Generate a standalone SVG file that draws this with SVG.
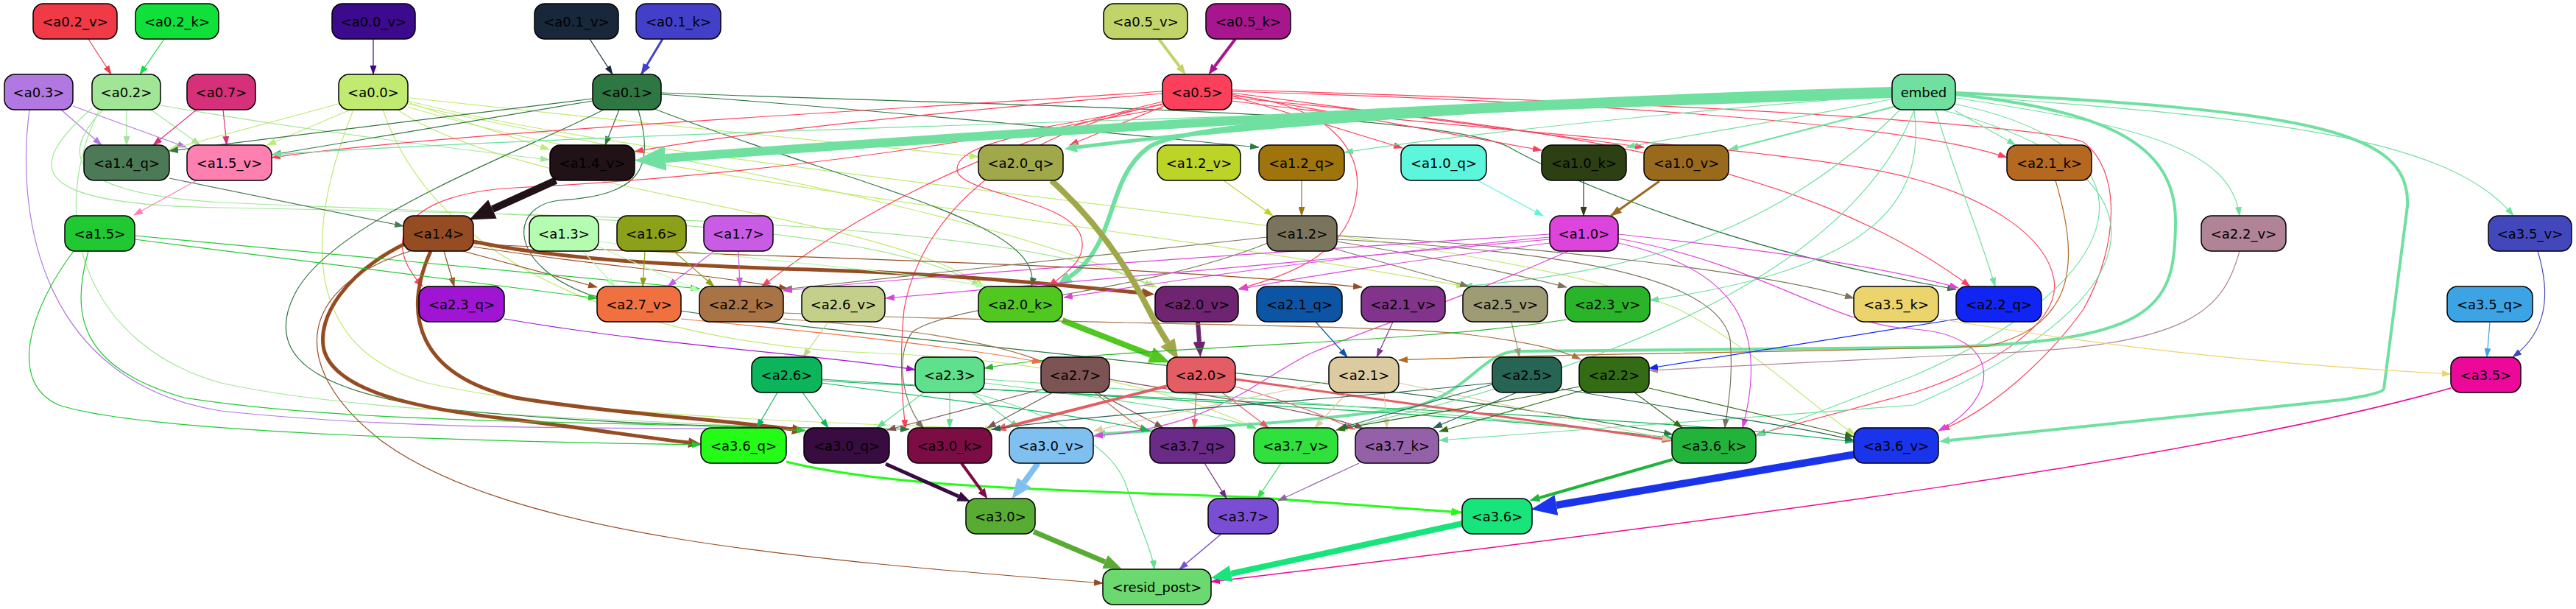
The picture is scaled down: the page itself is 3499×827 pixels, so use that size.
<svg xmlns="http://www.w3.org/2000/svg" width="3499" height="827" viewBox="0 0 3499 827">
<style>
.n rect{stroke:#000;stroke-width:1.5}
.n text{font-family:"DejaVu Sans","Liberation Sans",sans-serif;font-size:18px;text-anchor:middle;fill:#000}
.e path{fill:none;stroke-width:1.2}
</style>
<defs>
<marker id="m02v" viewBox="0 0 13 9" markerWidth="13" markerHeight="9" refX="12" refY="4.5" orient="auto" markerUnits="userSpaceOnUse"><path d="M0,0L13,4.5L0,9z" fill="#f03a46"/></marker>
<marker id="m02k" viewBox="0 0 13 9" markerWidth="13" markerHeight="9" refX="12" refY="4.5" orient="auto" markerUnits="userSpaceOnUse"><path d="M0,0L13,4.5L0,9z" fill="#10e03a"/></marker>
<marker id="m00v" viewBox="0 0 13 9" markerWidth="13" markerHeight="9" refX="12" refY="4.5" orient="auto" markerUnits="userSpaceOnUse"><path d="M0,0L13,4.5L0,9z" fill="#3c0a8c"/></marker>
<marker id="m01v" viewBox="0 0 13 9" markerWidth="13" markerHeight="9" refX="12" refY="4.5" orient="auto" markerUnits="userSpaceOnUse"><path d="M0,0L13,4.5L0,9z" fill="#18283a"/></marker>
<marker id="m01k" viewBox="0 0 13 9" markerWidth="16" markerHeight="11" refX="12" refY="4.5" orient="auto" markerUnits="userSpaceOnUse"><path d="M0,0L13,4.5L0,9z" fill="#4240c8"/></marker>
<marker id="m03" viewBox="0 0 13 9" markerWidth="13" markerHeight="9" refX="12" refY="4.5" orient="auto" markerUnits="userSpaceOnUse"><path d="M0,0L13,4.5L0,9z" fill="#b078e0"/></marker>
<marker id="m02" viewBox="0 0 13 9" markerWidth="13" markerHeight="9" refX="12" refY="4.5" orient="auto" markerUnits="userSpaceOnUse"><path d="M0,0L13,4.5L0,9z" fill="#a0e696"/></marker>
<marker id="m07" viewBox="0 0 13 9" markerWidth="13" markerHeight="9" refX="12" refY="4.5" orient="auto" markerUnits="userSpaceOnUse"><path d="M0,0L13,4.5L0,9z" fill="#d6307a"/></marker>
<marker id="m00" viewBox="0 0 13 9" markerWidth="13" markerHeight="9" refX="12" refY="4.5" orient="auto" markerUnits="userSpaceOnUse"><path d="M0,0L13,4.5L0,9z" fill="#c0ea70"/></marker>
<marker id="m01" viewBox="0 0 13 9" markerWidth="13" markerHeight="9" refX="12" refY="4.5" orient="auto" markerUnits="userSpaceOnUse"><path d="M0,0L13,4.5L0,9z" fill="#2e7642"/></marker>
<marker id="m05" viewBox="0 0 13 9" markerWidth="13" markerHeight="9" refX="12" refY="4.5" orient="auto" markerUnits="userSpaceOnUse"><path d="M0,0L13,4.5L0,9z" fill="#fc405c"/></marker>
<marker id="memb" viewBox="0 0 13 9" markerWidth="13" markerHeight="9" refX="12" refY="4.5" orient="auto" markerUnits="userSpaceOnUse"><path d="M0,0L13,4.5L0,9z" fill="#70e0a0"/></marker>
<marker id="m14q" viewBox="0 0 13 9" markerWidth="13" markerHeight="9" refX="12" refY="4.5" orient="auto" markerUnits="userSpaceOnUse"><path d="M0,0L13,4.5L0,9z" fill="#4c7a56"/></marker>
<marker id="m15v" viewBox="0 0 13 9" markerWidth="13" markerHeight="9" refX="12" refY="4.5" orient="auto" markerUnits="userSpaceOnUse"><path d="M0,0L13,4.5L0,9z" fill="#fe80b0"/></marker>
<marker id="m15" viewBox="0 0 13 9" markerWidth="13" markerHeight="9" refX="12" refY="4.5" orient="auto" markerUnits="userSpaceOnUse"><path d="M0,0L13,4.5L0,9z" fill="#20c832"/></marker>
<marker id="m14" viewBox="0 0 13 9" markerWidth="13" markerHeight="9" refX="12" refY="4.5" orient="auto" markerUnits="userSpaceOnUse"><path d="M0,0L13,4.5L0,9z" fill="#964c22"/></marker>
<marker id="m13" viewBox="0 0 13 9" markerWidth="13" markerHeight="9" refX="12" refY="4.5" orient="auto" markerUnits="userSpaceOnUse"><path d="M0,0L13,4.5L0,9z" fill="#b4fcb0"/></marker>
<marker id="m16" viewBox="0 0 13 9" markerWidth="13" markerHeight="9" refX="12" refY="4.5" orient="auto" markerUnits="userSpaceOnUse"><path d="M0,0L13,4.5L0,9z" fill="#8ca01a"/></marker>
<marker id="m17" viewBox="0 0 13 9" markerWidth="13" markerHeight="9" refX="12" refY="4.5" orient="auto" markerUnits="userSpaceOnUse"><path d="M0,0L13,4.5L0,9z" fill="#c85ce4"/></marker>
<marker id="m12" viewBox="0 0 13 9" markerWidth="13" markerHeight="9" refX="12" refY="4.5" orient="auto" markerUnits="userSpaceOnUse"><path d="M0,0L13,4.5L0,9z" fill="#7a745c"/></marker>
<marker id="m10" viewBox="0 0 13 9" markerWidth="13" markerHeight="9" refX="12" refY="4.5" orient="auto" markerUnits="userSpaceOnUse"><path d="M0,0L13,4.5L0,9z" fill="#dc44dc"/></marker>
<marker id="m12v" viewBox="0 0 13 9" markerWidth="13" markerHeight="9" refX="12" refY="4.5" orient="auto" markerUnits="userSpaceOnUse"><path d="M0,0L13,4.5L0,9z" fill="#bcd428"/></marker>
<marker id="m12q" viewBox="0 0 13 9" markerWidth="13" markerHeight="9" refX="12" refY="4.5" orient="auto" markerUnits="userSpaceOnUse"><path d="M0,0L13,4.5L0,9z" fill="#a0740c"/></marker>
<marker id="m10q" viewBox="0 0 13 9" markerWidth="13" markerHeight="9" refX="12" refY="4.5" orient="auto" markerUnits="userSpaceOnUse"><path d="M0,0L13,4.5L0,9z" fill="#5cf6dc"/></marker>
<marker id="m10k" viewBox="0 0 13 9" markerWidth="13" markerHeight="9" refX="12" refY="4.5" orient="auto" markerUnits="userSpaceOnUse"><path d="M0,0L13,4.5L0,9z" fill="#2c4014"/></marker>
<marker id="m10v" viewBox="0 0 13 9" markerWidth="16" markerHeight="11" refX="12" refY="4.5" orient="auto" markerUnits="userSpaceOnUse"><path d="M0,0L13,4.5L0,9z" fill="#9a6a1c"/></marker>
<marker id="m21k" viewBox="0 0 13 9" markerWidth="13" markerHeight="9" refX="12" refY="4.5" orient="auto" markerUnits="userSpaceOnUse"><path d="M0,0L13,4.5L0,9z" fill="#b46820"/></marker>
<marker id="m22v" viewBox="0 0 13 9" markerWidth="13" markerHeight="9" refX="12" refY="4.5" orient="auto" markerUnits="userSpaceOnUse"><path d="M0,0L13,4.5L0,9z" fill="#b08496"/></marker>
<marker id="m35v" viewBox="0 0 13 9" markerWidth="13" markerHeight="9" refX="12" refY="4.5" orient="auto" markerUnits="userSpaceOnUse"><path d="M0,0L13,4.5L0,9z" fill="#4248bc"/></marker>
<marker id="m23q" viewBox="0 0 13 9" markerWidth="13" markerHeight="9" refX="12" refY="4.5" orient="auto" markerUnits="userSpaceOnUse"><path d="M0,0L13,4.5L0,9z" fill="#a014d4"/></marker>
<marker id="m27v" viewBox="0 0 13 9" markerWidth="13" markerHeight="9" refX="12" refY="4.5" orient="auto" markerUnits="userSpaceOnUse"><path d="M0,0L13,4.5L0,9z" fill="#f07040"/></marker>
<marker id="m22k" viewBox="0 0 13 9" markerWidth="13" markerHeight="9" refX="12" refY="4.5" orient="auto" markerUnits="userSpaceOnUse"><path d="M0,0L13,4.5L0,9z" fill="#a87446"/></marker>
<marker id="m26v" viewBox="0 0 13 9" markerWidth="13" markerHeight="9" refX="12" refY="4.5" orient="auto" markerUnits="userSpaceOnUse"><path d="M0,0L13,4.5L0,9z" fill="#c4d08a"/></marker>
<marker id="m21q" viewBox="0 0 13 9" markerWidth="13" markerHeight="9" refX="12" refY="4.5" orient="auto" markerUnits="userSpaceOnUse"><path d="M0,0L13,4.5L0,9z" fill="#0c54a4"/></marker>
<marker id="m21v" viewBox="0 0 13 9" markerWidth="13" markerHeight="9" refX="12" refY="4.5" orient="auto" markerUnits="userSpaceOnUse"><path d="M0,0L13,4.5L0,9z" fill="#82348c"/></marker>
<marker id="m25v" viewBox="0 0 13 9" markerWidth="13" markerHeight="9" refX="12" refY="4.5" orient="auto" markerUnits="userSpaceOnUse"><path d="M0,0L13,4.5L0,9z" fill="#9e9c74"/></marker>
<marker id="m23v" viewBox="0 0 13 9" markerWidth="13" markerHeight="9" refX="12" refY="4.5" orient="auto" markerUnits="userSpaceOnUse"><path d="M0,0L13,4.5L0,9z" fill="#2ab42a"/></marker>
<marker id="m35k" viewBox="0 0 13 9" markerWidth="13" markerHeight="9" refX="12" refY="4.5" orient="auto" markerUnits="userSpaceOnUse"><path d="M0,0L13,4.5L0,9z" fill="#ecd46c"/></marker>
<marker id="m22q" viewBox="0 0 13 9" markerWidth="13" markerHeight="9" refX="12" refY="4.5" orient="auto" markerUnits="userSpaceOnUse"><path d="M0,0L13,4.5L0,9z" fill="#1024f4"/></marker>
<marker id="m35q" viewBox="0 0 13 9" markerWidth="13" markerHeight="9" refX="12" refY="4.5" orient="auto" markerUnits="userSpaceOnUse"><path d="M0,0L13,4.5L0,9z" fill="#3ca4e4"/></marker>
<marker id="m26" viewBox="0 0 13 9" markerWidth="13" markerHeight="9" refX="12" refY="4.5" orient="auto" markerUnits="userSpaceOnUse"><path d="M0,0L13,4.5L0,9z" fill="#0cb45c"/></marker>
<marker id="m23" viewBox="0 0 13 9" markerWidth="13" markerHeight="9" refX="12" refY="4.5" orient="auto" markerUnits="userSpaceOnUse"><path d="M0,0L13,4.5L0,9z" fill="#60e08c"/></marker>
<marker id="m27" viewBox="0 0 13 9" markerWidth="13" markerHeight="9" refX="12" refY="4.5" orient="auto" markerUnits="userSpaceOnUse"><path d="M0,0L13,4.5L0,9z" fill="#7c5454"/></marker>
<marker id="m20" viewBox="0 0 13 9" markerWidth="13" markerHeight="9" refX="12" refY="4.5" orient="auto" markerUnits="userSpaceOnUse"><path d="M0,0L13,4.5L0,9z" fill="#e45c64"/></marker>
<marker id="m21" viewBox="0 0 13 9" markerWidth="13" markerHeight="9" refX="12" refY="4.5" orient="auto" markerUnits="userSpaceOnUse"><path d="M0,0L13,4.5L0,9z" fill="#dccaa0"/></marker>
<marker id="m25" viewBox="0 0 13 9" markerWidth="13" markerHeight="9" refX="12" refY="4.5" orient="auto" markerUnits="userSpaceOnUse"><path d="M0,0L13,4.5L0,9z" fill="#266454"/></marker>
<marker id="m22" viewBox="0 0 13 9" markerWidth="13" markerHeight="9" refX="12" refY="4.5" orient="auto" markerUnits="userSpaceOnUse"><path d="M0,0L13,4.5L0,9z" fill="#346c16"/></marker>
<marker id="m35" viewBox="0 0 13 9" markerWidth="13" markerHeight="9" refX="12" refY="4.5" orient="auto" markerUnits="userSpaceOnUse"><path d="M0,0L13,4.5L0,9z" fill="#ec0898"/></marker>
<marker id="m36q" viewBox="0 0 13 9" markerWidth="16" markerHeight="11" refX="12" refY="4.5" orient="auto" markerUnits="userSpaceOnUse"><path d="M0,0L13,4.5L0,9z" fill="#24fc18"/></marker>
<marker id="m37q" viewBox="0 0 13 9" markerWidth="13" markerHeight="9" refX="12" refY="4.5" orient="auto" markerUnits="userSpaceOnUse"><path d="M0,0L13,4.5L0,9z" fill="#6a2a88"/></marker>
<marker id="m37v" viewBox="0 0 13 9" markerWidth="13" markerHeight="9" refX="12" refY="4.5" orient="auto" markerUnits="userSpaceOnUse"><path d="M0,0L13,4.5L0,9z" fill="#30e03c"/></marker>
<marker id="m37k" viewBox="0 0 13 9" markerWidth="13" markerHeight="9" refX="12" refY="4.5" orient="auto" markerUnits="userSpaceOnUse"><path d="M0,0L13,4.5L0,9z" fill="#9460a8"/></marker>
<marker id="m37" viewBox="0 0 13 9" markerWidth="13" markerHeight="9" refX="12" refY="4.5" orient="auto" markerUnits="userSpaceOnUse"><path d="M0,0L13,4.5L0,9z" fill="#7a4ed4"/></marker>
<marker id="m20t" viewBox="0 0 13 9" markerWidth="16" markerHeight="11" refX="12" refY="4.5" orient="auto" markerUnits="userSpaceOnUse"><path d="M0,0L13,4.5L0,9z" fill="#e45c64"/></marker>
<marker id="t14v" viewBox="0 0 35 28" markerWidth="3.5" markerHeight="2.8" refX="0" refY="14" orient="auto" markerUnits="strokeWidth"><path d="M0,0L35,14L0,28z" fill="#201216"/></marker>
<marker id="temb" viewBox="0 0 35 28" markerWidth="3.5" markerHeight="2.8" refX="0" refY="14" orient="auto" markerUnits="strokeWidth"><path d="M0,0L35,14L0,28z" fill="#70e0a0"/></marker>
<marker id="t20q" viewBox="0 0 35 28" markerWidth="3.5" markerHeight="2.8" refX="0" refY="14" orient="auto" markerUnits="strokeWidth"><path d="M0,0L35,14L0,28z" fill="#a0a84a"/></marker>
<marker id="t20k" viewBox="0 0 35 28" markerWidth="3.5" markerHeight="2.8" refX="0" refY="14" orient="auto" markerUnits="strokeWidth"><path d="M0,0L35,14L0,28z" fill="#50c820"/></marker>
<marker id="t20v" viewBox="0 0 35 28" markerWidth="3.5" markerHeight="2.8" refX="0" refY="14" orient="auto" markerUnits="strokeWidth"><path d="M0,0L35,14L0,28z" fill="#6e2470"/></marker>
<marker id="t14" viewBox="0 0 35 28" markerWidth="3.5" markerHeight="2.8" refX="0" refY="14" orient="auto" markerUnits="strokeWidth"><path d="M0,0L35,14L0,28z" fill="#964c22"/></marker>
<marker id="t30q" viewBox="0 0 35 28" markerWidth="3.5" markerHeight="2.8" refX="0" refY="14" orient="auto" markerUnits="strokeWidth"><path d="M0,0L35,14L0,28z" fill="#380c40"/></marker>
<marker id="t30k" viewBox="0 0 35 28" markerWidth="3.5" markerHeight="2.8" refX="0" refY="14" orient="auto" markerUnits="strokeWidth"><path d="M0,0L35,14L0,28z" fill="#7c0c44"/></marker>
<marker id="t30v" viewBox="0 0 35 28" markerWidth="3.5" markerHeight="2.8" refX="0" refY="14" orient="auto" markerUnits="strokeWidth"><path d="M0,0L35,14L0,28z" fill="#80c0f0"/></marker>
<marker id="t36k" viewBox="0 0 35 28" markerWidth="3.5" markerHeight="2.8" refX="0" refY="14" orient="auto" markerUnits="strokeWidth"><path d="M0,0L35,14L0,28z" fill="#22b43a"/></marker>
<marker id="t36v" viewBox="0 0 35 28" markerWidth="3.5" markerHeight="2.8" refX="0" refY="14" orient="auto" markerUnits="strokeWidth"><path d="M0,0L35,14L0,28z" fill="#1a34ec"/></marker>
<marker id="t30" viewBox="0 0 35 28" markerWidth="3.5" markerHeight="2.8" refX="0" refY="14" orient="auto" markerUnits="strokeWidth"><path d="M0,0L35,14L0,28z" fill="#58ac34"/></marker>
<marker id="t36" viewBox="0 0 35 28" markerWidth="3.5" markerHeight="2.8" refX="0" refY="14" orient="auto" markerUnits="strokeWidth"><path d="M0,0L35,14L0,28z" fill="#18e47c"/></marker>
<marker id="t20" viewBox="0 0 35 28" markerWidth="3.5" markerHeight="2.8" refX="0" refY="14" orient="auto" markerUnits="strokeWidth"><path d="M0,0L35,14L0,28z" fill="#e45c64"/></marker>
<marker id="t05v" viewBox="0 0 35 28" markerWidth="3.5" markerHeight="2.8" refX="0" refY="14" orient="auto" markerUnits="strokeWidth"><path d="M0,0L35,14L0,28z" fill="#c0d46a"/></marker>
<marker id="t05k" viewBox="0 0 35 28" markerWidth="3.5" markerHeight="2.8" refX="0" refY="14" orient="auto" markerUnits="strokeWidth"><path d="M0,0L35,14L0,28z" fill="#a8168e"/></marker>
</defs>
<rect width="3499" height="827" fill="#fff"/>
<g id="connectors" class="e">
<path d="M120,53 L151,101" stroke="#f03a46" marker-end="url(#m02v)"/>
<path d="M223,53 L190,101" stroke="#10e03a" marker-end="url(#m02k)"/>
<path d="M507,53 L507,101" stroke="#3c0a8c" stroke-width="1.6" marker-end="url(#m00v)"/>
<path d="M801,53 L832,101" stroke="#18283a" marker-end="url(#m01v)"/>
<path d="M900,53 L871,101" stroke="#4240c8" style="stroke-width:3" marker-end="url(#m01k)"/>
<path d="M1574,53 L1602,90" stroke="#c0d46a" style="stroke-width:4" marker-end="url(#t05v)"/>
<path d="M1678,53 L1650,90" stroke="#a8168e" style="stroke-width:4" marker-end="url(#t05k)"/>
<path d="M83,149 L138,197" stroke="#b078e0" marker-end="url(#m03)"/>
<path d="M99,144 L253,200" stroke="#b078e0" marker-end="url(#m03)"/>
<path d="M40,149 C20,300 60,520 300,558 C600,590 950,578 1093,584" stroke="#b078e0" marker-end="url(#m03)"/>
<path d="M172,149 L172,197" stroke="#a0e696" marker-end="url(#m02)"/>
<path d="M205,149 L272,197" stroke="#a0e696" marker-end="url(#m02)"/>
<path d="M218,143 C400,175 600,200 746,217" stroke="#a0e696" marker-end="url(#m02)"/>
<path d="M140,149 C80,210 90,262 300,275 C700,292 1200,300 1331,389" stroke="#a0e696" marker-end="url(#m02)"/>
<path d="M125,147 C30,230 40,278 300,282 C800,292 1400,300 1566,390" stroke="#a0e696" marker-end="url(#m02)"/>
<path d="M135,149 C60,300 120,470 300,520 C500,565 900,570 1092,583" stroke="#a0e696" marker-end="url(#m02)"/>
<path d="M267,149 L208,197" stroke="#d6307a" marker-end="url(#m07)"/>
<path d="M303,149 L308,197" stroke="#d6307a" marker-end="url(#m07)"/>
<path d="M460,141 L230,203" stroke="#c0ea70" marker-end="url(#m00)"/>
<path d="M476,149 L363,197" stroke="#c0ea70" marker-end="url(#m00)"/>
<path d="M554,139 L746,203" stroke="#c0ea70" marker-end="url(#m00)"/>
<path d="M557,133 C800,160 1100,190 1329,213" stroke="#c0ea70" marker-end="url(#m00)"/>
<path d="M540,149 C700,260 1200,290 1336,389" stroke="#c0ea70" marker-end="url(#m00)"/>
<path d="M554,141 C800,200 1300,270 1571,390" stroke="#c0ea70" marker-end="url(#m00)"/>
<path d="M554,145 C900,250 1500,300 1990,389" stroke="#c0ea70" marker-end="url(#m00)"/>
<path d="M480,149 C420,300 400,470 580,520 C800,570 1200,575 1350,583" stroke="#c0ea70" marker-end="url(#m00)"/>
<path d="M520,149 C600,380 900,470 1200,480 C1450,490 1620,540 1706,582" stroke="#c0ea70" marker-end="url(#m00)"/>
<path d="M554,137 C1000,250 2000,300 2280,420 C2380,470 2470,560 2520,590" stroke="#c0ea70" marker-end="url(#m00)"/>
<path d="M805,134 L230,205" stroke="#2e7642" marker-end="url(#m01)"/>
<path d="M805,137 L370,210" stroke="#2e7642" marker-end="url(#m01)"/>
<path d="M841,149 L822,197" stroke="#2e7642" marker-end="url(#m01)"/>
<path d="M898,128 C1200,150 1500,180 1710,200" stroke="#2e7642" marker-end="url(#m01)"/>
<path d="M884,146 C1150,250 1420,300 1401,389" stroke="#2e7642" marker-end="url(#m01)"/>
<path d="M898,126 C1400,145 1950,150 2050,200 C2120,240 2350,340 2657,393" stroke="#2e7642" marker-end="url(#m01)"/>
<path d="M820,149 C700,210 450,300 400,400 C360,480 420,530 600,555 C900,585 1150,580 1235,583" stroke="#2e7642" marker-end="url(#m01)"/>
<path d="M867,149 C890,230 870,265 760,272 C690,280 690,360 800,400 C1000,450 1800,500 2272,590" stroke="#2e7642" marker-end="url(#m01)"/>
<path d="M1579,124 C1200,150 600,180 369,214" stroke="#fc405c" marker-end="url(#m05)"/>
<path d="M1579,127 C1300,150 1000,180 862,206" stroke="#fc405c" marker-end="url(#m05)"/>
<path d="M1583,143 L1453,197" stroke="#fc405c" marker-end="url(#m05)"/>
<path d="M1673,130 L1905,201" stroke="#fc405c" marker-end="url(#m05)"/>
<path d="M1673,128 L2094,204" stroke="#fc405c" marker-end="url(#m05)"/>
<path d="M1673,126 L2233,200" stroke="#fc405c" marker-end="url(#m05)"/>
<path d="M1673,124 C2200,140 2600,170 2726,214" stroke="#fc405c" marker-end="url(#m05)"/>
<path d="M1673,133 C2100,170 2450,220 2676,389" stroke="#fc405c" marker-end="url(#m05)"/>
<path d="M1673,122 C2300,140 2780,170 2830,193 C2880,230 2880,330 2830,420 C2780,490 2700,560 2636,584" stroke="#fc405c" marker-end="url(#m05)"/>
<path d="M1673,137 C2000,180 2450,200 2600,243 C2700,270 2780,320 2790,380 C2800,440 2700,500 2600,533 L2386,590" stroke="#fc405c" marker-end="url(#m05)"/>
<path d="M1579,147 C1400,180 1300,195 1300,230 C1300,262 1450,270 1468,320 C1480,355 1440,375 1425,389" stroke="#fc405c" marker-end="url(#m05)"/>
<path d="M1579,138 C1400,180 1200,260 1035,389" stroke="#fc405c" marker-end="url(#m05)"/>
<path d="M1579,141 C1300,200 1240,350 1228,420 C1222,480 1225,540 1230,582" stroke="#fc405c" marker-end="url(#m05)"/>
<path d="M1579,142 C1300,200 1000,240 700,255 C560,262 510,320 574,389" stroke="#fc405c" marker-end="url(#m05)"/>
<path d="M1673,130 C1800,140 1850,200 1843,260 C1835,340 1760,372 1683,392" stroke="#fc405c" marker-end="url(#m05)"/>
<path d="M2570,124 C2000,140 1300,185 904,215" stroke="#70e0a0" style="stroke-width:12" marker-end="url(#temb)"/>
<path d="M2570,127 C2100,140 1700,170 1463,200" stroke="#70e0a0" style="stroke-width:5" marker-end="url(#temb)"/>
<path d="M2570,130 C2000,150 1620,160 1560,200 C1500,245 1520,330 1453,376" stroke="#70e0a0" style="stroke-width:6" marker-end="url(#temb)"/>
<path d="M2656,126 C3150,150 3275,180 3270,280 L3238,528 C3236,534 3200,540 3180,543 L2648,598" stroke="#70e0a0" style="stroke-width:4" marker-end="url(#temb)"/>
<path d="M2656,128 C2850,150 2955,190 2955,300 C2955,420 2930,468 2600,472 L2060,477 C2010,478 1990,545 1900,556 C1820,566 1760,572 1700,576 L1501,589" stroke="#70e0a0" style="stroke-width:4" marker-end="url(#temb)"/>
<path d="M2570,131 C2000,150 800,180 370,210" stroke="#70e0a0" marker-end="url(#memb)"/>
<path d="M2570,129 C2300,150 2000,180 1826,207" stroke="#70e0a0" marker-end="url(#memb)"/>
<path d="M2572,134 C2450,160 2300,182 2209,200" stroke="#70e0a0" marker-end="url(#memb)"/>
<path d="M2580,143 L2349,203" stroke="#70e0a0" style="stroke-width:2" marker-end="url(#memb)"/>
<path d="M2655,150 L2738,197" stroke="#70e0a0" marker-end="url(#memb)"/>
<path d="M2629,150 C2660,250 2690,320 2710,389" stroke="#70e0a0" marker-end="url(#memb)"/>
<path d="M2657,133 C2900,170 3030,200 3042,293" stroke="#70e0a0" marker-end="url(#memb)"/>
<path d="M2657,130 C3100,160 3330,190 3414,293" stroke="#70e0a0" marker-end="url(#memb)"/>
<path d="M2600,150 C2620,300 2500,370 2241,408" stroke="#70e0a0" marker-end="url(#memb)"/>
<path d="M2580,150 C2400,330 2200,370 1988,389" stroke="#70e0a0" marker-end="url(#memb)"/>
<path d="M2650,140 C2950,200 2900,380 2600,510 L2385,592" stroke="#70e0a0" marker-end="url(#memb)"/>
<path d="M2640,150 C2950,230 2950,400 2600,550 L1955,598" stroke="#70e0a0" marker-end="url(#memb)"/>
<path d="M2600,150 C2500,400 2100,520 1818,583" stroke="#70e0a0" marker-end="url(#memb)"/>
<path d="M755,245 L669,284" stroke="#201216" style="stroke-width:10" marker-end="url(#t14v)"/>
<path d="M230,242 L548,307" stroke="#4c7a56" marker-end="url(#m14q)"/>
<path d="M267,245 L182,292" stroke="#fe80b0" marker-end="url(#m15v)"/>
<path d="M643,328 C760,352 900,360 1100,366 C1300,372 1450,388 1551,398" stroke="#964c22" style="stroke-width:5" marker-end="url(#t14)"/>
<path d="M585,341 C545,430 570,510 700,540 C820,560 980,570 1076,583" stroke="#964c22" style="stroke-width:5" marker-end="url(#t14)"/>
<path d="M552,330 C470,370 430,430 440,475 C455,530 560,555 700,570 C800,582 880,595 935,601" stroke="#964c22" style="stroke-width:5" marker-end="url(#t14)"/>
<path d="M603,341 L617,389" stroke="#964c22" marker-end="url(#m14)"/>
<path d="M629,341 L811,390" stroke="#964c22" marker-end="url(#m14)"/>
<path d="M643,335 C800,360 950,370 1070,392" stroke="#964c22" marker-end="url(#m14)"/>
<path d="M643,331 C1000,350 1500,355 1850,390" stroke="#964c22" marker-end="url(#m14)"/>
<path d="M560,340 C400,390 390,500 520,600 C700,730 1100,760 1498,792" stroke="#964c22" marker-end="url(#m14)"/>
<path d="M183,325 L811,405" stroke="#20c832" marker-end="url(#m15)"/>
<path d="M183,320 L950,392" stroke="#20c832" marker-end="url(#m15)"/>
<path d="M100,341 C40,420 10,520 80,550 C200,590 700,600 952,604" stroke="#20c832" marker-end="url(#m15)"/>
<path d="M120,341 C95,430 110,500 250,540 C500,580 900,570 1094,585" stroke="#20c832" marker-end="url(#m15)"/>
<path d="M792,341 L835,389" stroke="#b4fcb0" marker-end="url(#m13)"/>
<path d="M813,335 L950,395" stroke="#b4fcb0" marker-end="url(#m13)"/>
<path d="M813,328 C1000,350 1250,370 1338,389" stroke="#b4fcb0" marker-end="url(#m13)"/>
<path d="M876,341 L873,389" stroke="#8ca01a" marker-end="url(#m16)"/>
<path d="M915,341 L970,389" stroke="#8ca01a" marker-end="url(#m16)"/>
<path d="M970,341 L907,389" stroke="#c85ce4" marker-end="url(#m17)"/>
<path d="M1003,341 L1005,389" stroke="#c85ce4" marker-end="url(#m17)"/>
<path d="M1721,322 L1064,393" stroke="#7a745c" marker-end="url(#m12)"/>
<path d="M1722,330 C1550,400 1300,410 1240,450 C1215,480 1225,550 1255,582" stroke="#7a745c" marker-end="url(#m12)"/>
<path d="M1810,337 L1995,389" stroke="#7a745c" marker-end="url(#m12)"/>
<path d="M1816,328 C1950,350 2050,370 2128,390" stroke="#7a745c" marker-end="url(#m12)"/>
<path d="M1816,320 C2100,335 2400,370 2518,405" stroke="#7a745c" marker-end="url(#m12)"/>
<path d="M1816,325 C2100,340 2330,370 2350,460 C2355,520 2345,560 2343,581" stroke="#7a745c" marker-end="url(#m12)"/>
<path d="M2105,322 C1800,350 1600,380 1445,404" stroke="#dc44dc" marker-end="url(#m10)"/>
<path d="M2105,325 C1700,360 1400,390 1203,405" stroke="#dc44dc" marker-end="url(#m10)"/>
<path d="M2105,330 C1950,350 1800,370 1683,393" stroke="#dc44dc" marker-end="url(#m10)"/>
<path d="M2105,318 C1700,345 1300,370 1064,395" stroke="#dc44dc" marker-end="url(#m10)"/>
<path d="M2198,330 C2330,360 2410,420 2367,581" stroke="#dc44dc" marker-end="url(#m10)"/>
<path d="M2198,324 C2400,360 2480,440 2600,447 C2720,455 2720,540 2633,585" stroke="#dc44dc" marker-end="url(#m10)"/>
<path d="M2130,341 C2000,400 1850,450 1780,480 C1700,520 1650,580 1486,592" stroke="#dc44dc" marker-end="url(#m10)"/>
<path d="M2198,318 C2400,340 2550,360 2660,391" stroke="#dc44dc" marker-end="url(#m10)"/>
<path d="M1662,245 L1729,293" stroke="#bcd428" marker-end="url(#m12v)"/>
<path d="M1768,245 L1768,293" stroke="#a0740c" marker-end="url(#m12q)"/>
<path d="M2007,245 L2096,293" stroke="#5cf6dc" marker-end="url(#m10q)"/>
<path d="M2151,245 L2151,293" stroke="#2c4014" marker-end="url(#m10k)"/>
<path d="M2254,246 L2188,293" stroke="#9a6a1c" style="stroke-width:3" marker-end="url(#m10v)"/>
<path d="M1428,245 C1500,310 1540,380 1560,420 C1570,440 1578,452 1586,465" stroke="#a0a84a" style="stroke-width:8" marker-end="url(#t20q)"/>
<path d="M1443,435 L1563,482" stroke="#50c820" style="stroke-width:8" marker-end="url(#t20k)"/>
<path d="M1627,437 L1629,464" stroke="#6e2470" style="stroke-width:6" marker-end="url(#t20v)"/>
<path d="M1787,437 L1830,485" stroke="#0c54a4" marker-end="url(#m21q)"/>
<path d="M1892,437 L1870,485" stroke="#82348c" marker-end="url(#m21v)"/>
<path d="M2792,245 C2820,340 2830,440 2700,470 C2400,480 2100,480 1900,489" stroke="#b46820" marker-end="url(#m21k)"/>
<path d="M2053,437 L2064,485" stroke="#9e9c74" marker-end="url(#m25v)"/>
<path d="M1064,425 C1400,440 1900,440 2000,455 C2080,465 2120,475 2147,488" stroke="#a87446" marker-end="url(#m22k)"/>
<path d="M1064,433 C1300,450 1420,480 1470,520 C1510,550 1535,575 1560,585" stroke="#a87446" marker-end="url(#m22k)"/>
<path d="M3042,341 C3020,420 2980,470 2700,480 L2240,503" stroke="#b08496" marker-end="url(#m22v)"/>
<path d="M2660,433 L2240,500" stroke="#1024f4" marker-end="url(#m22q)"/>
<path d="M3382,437 L3378,485" stroke="#3ca4e4" marker-end="url(#m35q)"/>
<path d="M3447,341 C3465,400 3460,450 3413,485" stroke="#4248bc" marker-end="url(#m35v)"/>
<path d="M2633,433 C2800,460 3000,490 3329,508" stroke="#ecd46c" marker-end="url(#m35k)"/>
<path d="M1125,437 L1091,485" stroke="#c4d08a" marker-end="url(#m26v)"/>
<path d="M685,433 C900,470 1100,480 1243,502" stroke="#a014d4" marker-end="url(#m23q)"/>
<path d="M2128,434 C1900,470 1500,470 1337,500" stroke="#2ab42a" marker-end="url(#m23v)"/>
<path d="M925,433 C1100,450 1300,470 1414,492" stroke="#f07040" marker-end="url(#m27v)"/>
<path d="M1056,533 L1028,581" stroke="#0cb45c" marker-end="url(#m26)"/>
<path d="M1090,533 L1125,581" stroke="#0cb45c" marker-end="url(#m26)"/>
<path d="M1116,520 C1300,545 1450,560 1562,585" stroke="#0cb45c" marker-end="url(#m26)"/>
<path d="M1116,515 C1500,540 2000,560 2272,595" stroke="#0cb45c" marker-end="url(#m26)"/>
<path d="M1116,517 C1600,545 2200,560 2518,600" stroke="#0cb45c" marker-end="url(#m26)"/>
<path d="M1255,533 L1191,581" stroke="#60e08c" marker-end="url(#m23)"/>
<path d="M1290,533 L1290,581" stroke="#60e08c" marker-end="url(#m23)"/>
<path d="M1320,533 L1384,581" stroke="#60e08c" marker-end="url(#m23)"/>
<path d="M1337,520 C1500,540 1650,560 1706,582" stroke="#60e08c" marker-end="url(#m23)"/>
<path d="M1337,515 C1700,540 2100,570 2272,598" stroke="#60e08c" marker-end="url(#m23)"/>
<path d="M1320,533 C1420,560 1510,600 1530,660 C1550,720 1565,750 1568,773" stroke="#60e08c" marker-end="url(#m23)"/>
<path d="M1430,533 L1341,581" stroke="#7c5454" marker-end="url(#m27)"/>
<path d="M1418,528 L1205,584" stroke="#7c5454" marker-end="url(#m27)"/>
<path d="M1490,533 L1580,581" stroke="#7c5454" marker-end="url(#m27)"/>
<path d="M1507,515 C1650,540 1800,560 1852,582" stroke="#7c5454" marker-end="url(#m27)"/>
<path d="M1590,523 L1366,580" stroke="#e45c64" style="stroke-width:4" marker-end="url(#t20)"/>
<path d="M1625,533 L1622,581" stroke="#e45c64" marker-end="url(#m20)"/>
<path d="M1678,515 L2272,598" stroke="#e45c64" style="stroke-width:3" marker-end="url(#m20t)"/>
<path d="M1660,533 L1723,581" stroke="#e45c64" marker-end="url(#m20)"/>
<path d="M1678,525 C1750,545 1800,565 1840,583" stroke="#e45c64" marker-end="url(#m20)"/>
<path d="M1880,533 L1884,581" stroke="#dccaa0" marker-end="url(#m21)"/>
<path d="M1830,533 L1786,581" stroke="#dccaa0" marker-end="url(#m21)"/>
<path d="M1900,520 L2270,597" stroke="#dccaa0" marker-end="url(#m21)"/>
<path d="M1805,518 C1700,540 1550,570 1486,585" stroke="#dccaa0" marker-end="url(#m21)"/>
<path d="M2060,533 L1947,581" stroke="#266454" marker-end="url(#m25)"/>
<path d="M2121,528 C2300,560 2450,580 2518,598" stroke="#266454" marker-end="url(#m25)"/>
<path d="M2027,522 L1818,582" stroke="#266454" marker-end="url(#m25)"/>
<path d="M2027,520 C1800,545 1500,560 1347,583" stroke="#266454" marker-end="url(#m25)"/>
<path d="M2150,530 L1955,586" stroke="#346c16" marker-end="url(#m22)"/>
<path d="M2220,533 L2285,581" stroke="#346c16" marker-end="url(#m22)"/>
<path d="M2240,527 L2518,593" stroke="#346c16" marker-end="url(#m22)"/>
<path d="M2145,525 C2000,555 1880,570 1815,584" stroke="#346c16" marker-end="url(#m22)"/>
<path d="M3329,527 C3000,620 2400,700 1645,790" stroke="#ec0898" style="stroke-width:1.5" marker-end="url(#m35)"/>
<path d="M1068,627 C1200,660 1400,665 1700,675 L1986,696" stroke="#24fc18" style="stroke-width:3" marker-end="url(#m36q)"/>
<path d="M1203,630 L1302,674" stroke="#380c40" style="stroke-width:5" marker-end="url(#t30q)"/>
<path d="M1306,629 L1333,666" stroke="#7c0c44" style="stroke-width:4" marker-end="url(#t30k)"/>
<path d="M1410,629 L1391,655" stroke="#80c0f0" style="stroke-width:8" marker-end="url(#t30v)"/>
<path d="M1636,629 L1666,677" stroke="#6a2a88" marker-end="url(#m37q)"/>
<path d="M1740,629 L1708,677" stroke="#30e03c" marker-end="url(#m37v)"/>
<path d="M1846,629 L1736,680" stroke="#9460a8" marker-end="url(#m37k)"/>
<path d="M2272,624 L2091,676" stroke="#22b43a" style="stroke-width:4" marker-end="url(#t36k)"/>
<path d="M2520,617 L2114,686" stroke="#1a34ec" style="stroke-width:10" marker-end="url(#t36v)"/>
<path d="M1404,722 L1501,763" stroke="#58ac34" style="stroke-width:7" marker-end="url(#t30)"/>
<path d="M1659,725 L1602,773" stroke="#7a4ed4" style="stroke-width:1.5" marker-end="url(#m37)"/>
<path d="M1986,711 L1672,779" stroke="#18e47c" style="stroke-width:8" marker-end="url(#t36)"/>
</g>
<g id="a0.2_v" class="n"><rect x="45" y="5" width="114" height="48" rx="14" fill="#f03a46"/><text x="102" y="35.5">&lt;a0.2_v&gt;</text></g>
<g id="a0.2_k" class="n"><rect x="184" y="5" width="113" height="48" rx="14" fill="#10e03a"/><text x="240.5" y="35.5">&lt;a0.2_k&gt;</text></g>
<g id="a0.0_v" class="n"><rect x="451" y="5" width="113" height="48" rx="14" fill="#3c0a8c"/><text x="507.5" y="35.5">&lt;a0.0_v&gt;</text></g>
<g id="a0.1_v" class="n"><rect x="726" y="5" width="114" height="48" rx="14" fill="#18283a"/><text x="783" y="35.5">&lt;a0.1_v&gt;</text></g>
<g id="a0.1_k" class="n"><rect x="864" y="5" width="115" height="48" rx="14" fill="#4240c8"/><text x="921.5" y="35.5">&lt;a0.1_k&gt;</text></g>
<g id="a0.5_v" class="n"><rect x="1499" y="5" width="114" height="48" rx="14" fill="#c0d46a"/><text x="1556" y="35.5">&lt;a0.5_v&gt;</text></g>
<g id="a0.5_k" class="n"><rect x="1638" y="5" width="115" height="48" rx="14" fill="#a8168e"/><text x="1695.5" y="35.5">&lt;a0.5_k&gt;</text></g>
<g id="a0.3" class="n"><rect x="6" y="101" width="93" height="48" rx="14" fill="#b078e0"/><text x="52.5" y="131.5">&lt;a0.3&gt;</text></g>
<g id="a0.2" class="n"><rect x="125" y="101" width="93" height="48" rx="14" fill="#a0e696"/><text x="171.5" y="131.5">&lt;a0.2&gt;</text></g>
<g id="a0.7" class="n"><rect x="254" y="101" width="93" height="48" rx="14" fill="#d6307a"/><text x="300.5" y="131.5">&lt;a0.7&gt;</text></g>
<g id="a0.0" class="n"><rect x="460" y="101" width="94" height="48" rx="14" fill="#c0ea70"/><text x="507" y="131.5">&lt;a0.0&gt;</text></g>
<g id="a0.1" class="n"><rect x="805" y="101" width="93" height="48" rx="14" fill="#2e7642"/><text x="851.5" y="131.5">&lt;a0.1&gt;</text></g>
<g id="a0.5" class="n"><rect x="1579" y="101" width="94" height="48" rx="14" fill="#fc405c"/><text x="1626" y="131.5">&lt;a0.5&gt;</text></g>
<g id="embed" class="n"><rect x="2570" y="101" width="86" height="48" rx="14" fill="#70e0a0"/><text x="2613" y="131.5">embed</text></g>
<g id="a1.4_q" class="n"><rect x="114" y="197" width="116" height="48" rx="14" fill="#4c7a56"/><text x="172" y="227.5">&lt;a1.4_q&gt;</text></g>
<g id="a1.5_v" class="n"><rect x="254" y="197" width="115" height="48" rx="14" fill="#fe80b0"/><text x="311.5" y="227.5">&lt;a1.5_v&gt;</text></g>
<g id="a1.4_v" class="n"><rect x="747" y="197" width="115" height="48" rx="14" fill="#201216"/><text x="804.5" y="227.5">&lt;a1.4_v&gt;</text></g>
<g id="a2.0_q" class="n"><rect x="1329" y="197" width="115" height="48" rx="14" fill="#a0a84a"/><text x="1386.5" y="227.5">&lt;a2.0_q&gt;</text></g>
<g id="a1.2_v" class="n"><rect x="1572" y="197" width="113" height="48" rx="14" fill="#bcd428"/><text x="1628.5" y="227.5">&lt;a1.2_v&gt;</text></g>
<g id="a1.2_q" class="n"><rect x="1710" y="197" width="116" height="48" rx="14" fill="#a0740c"/><text x="1768" y="227.5">&lt;a1.2_q&gt;</text></g>
<g id="a1.0_q" class="n"><rect x="1903" y="197" width="116" height="48" rx="14" fill="#5cf6dc"/><text x="1961" y="227.5">&lt;a1.0_q&gt;</text></g>
<g id="a1.0_k" class="n"><rect x="2094" y="197" width="115" height="48" rx="14" fill="#2c4014"/><text x="2151.5" y="227.5">&lt;a1.0_k&gt;</text></g>
<g id="a1.0_v" class="n"><rect x="2233" y="197" width="115" height="48" rx="14" fill="#9a6a1c"/><text x="2290.5" y="227.5">&lt;a1.0_v&gt;</text></g>
<g id="a2.1_k" class="n"><rect x="2726" y="197" width="115" height="48" rx="14" fill="#b46820"/><text x="2783.5" y="227.5">&lt;a2.1_k&gt;</text></g>
<g id="a1.5" class="n"><rect x="88" y="293" width="95" height="48" rx="14" fill="#20c832"/><text x="135.5" y="323.5">&lt;a1.5&gt;</text></g>
<g id="a1.4" class="n"><rect x="548" y="293" width="95" height="48" rx="14" fill="#964c22"/><text x="595.5" y="323.5">&lt;a1.4&gt;</text></g>
<g id="a1.3" class="n"><rect x="719" y="293" width="94" height="48" rx="14" fill="#b4fcb0"/><text x="766" y="323.5">&lt;a1.3&gt;</text></g>
<g id="a1.6" class="n"><rect x="838" y="293" width="94" height="48" rx="14" fill="#8ca01a"/><text x="885" y="323.5">&lt;a1.6&gt;</text></g>
<g id="a1.7" class="n"><rect x="956" y="293" width="94" height="48" rx="14" fill="#c85ce4"/><text x="1003" y="323.5">&lt;a1.7&gt;</text></g>
<g id="a1.2" class="n"><rect x="1721" y="293" width="95" height="48" rx="14" fill="#7a745c"/><text x="1768.5" y="323.5">&lt;a1.2&gt;</text></g>
<g id="a1.0" class="n"><rect x="2105" y="293" width="93" height="48" rx="14" fill="#dc44dc"/><text x="2151.5" y="323.5">&lt;a1.0&gt;</text></g>
<g id="a2.2_v" class="n"><rect x="2990" y="293" width="115" height="48" rx="14" fill="#b08496"/><text x="3047.5" y="323.5">&lt;a2.2_v&gt;</text></g>
<g id="a3.5_v" class="n"><rect x="3380" y="293" width="113" height="48" rx="14" fill="#4248bc"/><text x="3436.5" y="323.5">&lt;a3.5_v&gt;</text></g>
<g id="a2.3_q" class="n"><rect x="569" y="389" width="116" height="48" rx="14" fill="#a014d4"/><text x="627" y="419.5">&lt;a2.3_q&gt;</text></g>
<g id="a2.7_v" class="n"><rect x="811" y="389" width="114" height="48" rx="14" fill="#f07040"/><text x="868" y="419.5">&lt;a2.7_v&gt;</text></g>
<g id="a2.2_k" class="n"><rect x="950" y="389" width="114" height="48" rx="14" fill="#a87446"/><text x="1007" y="419.5">&lt;a2.2_k&gt;</text></g>
<g id="a2.6_v" class="n"><rect x="1089" y="389" width="113" height="48" rx="14" fill="#c4d08a"/><text x="1145.5" y="419.5">&lt;a2.6_v&gt;</text></g>
<g id="a2.0_k" class="n"><rect x="1329" y="389" width="114" height="48" rx="14" fill="#50c820"/><text x="1386" y="419.5">&lt;a2.0_k&gt;</text></g>
<g id="a2.0_v" class="n"><rect x="1569" y="389" width="113" height="48" rx="14" fill="#6e2470"/><text x="1625.5" y="419.5">&lt;a2.0_v&gt;</text></g>
<g id="a2.1_q" class="n"><rect x="1707" y="389" width="116" height="48" rx="14" fill="#0c54a4"/><text x="1765" y="419.5">&lt;a2.1_q&gt;</text></g>
<g id="a2.1_v" class="n"><rect x="1849" y="389" width="114" height="48" rx="14" fill="#82348c"/><text x="1906" y="419.5">&lt;a2.1_v&gt;</text></g>
<g id="a2.5_v" class="n"><rect x="1987" y="389" width="115" height="48" rx="14" fill="#9e9c74"/><text x="2044.5" y="419.5">&lt;a2.5_v&gt;</text></g>
<g id="a2.3_v" class="n"><rect x="2126" y="389" width="115" height="48" rx="14" fill="#2ab42a"/><text x="2183.5" y="419.5">&lt;a2.3_v&gt;</text></g>
<g id="a3.5_k" class="n"><rect x="2518" y="389" width="115" height="48" rx="14" fill="#ecd46c"/><text x="2575.5" y="419.5">&lt;a3.5_k&gt;</text></g>
<g id="a2.2_q" class="n"><rect x="2657" y="389" width="116" height="48" rx="14" fill="#1024f4"/><text x="2715" y="419.5">&lt;a2.2_q&gt;</text></g>
<g id="a3.5_q" class="n"><rect x="3324" y="389" width="116" height="48" rx="14" fill="#3ca4e4"/><text x="3382" y="419.5">&lt;a3.5_q&gt;</text></g>
<g id="a2.6" class="n"><rect x="1021" y="485" width="95" height="48" rx="14" fill="#0cb45c"/><text x="1068.5" y="515.5">&lt;a2.6&gt;</text></g>
<g id="a2.3" class="n"><rect x="1243" y="485" width="94" height="48" rx="14" fill="#60e08c"/><text x="1290" y="515.5">&lt;a2.3&gt;</text></g>
<g id="a2.7" class="n"><rect x="1414" y="485" width="93" height="48" rx="14" fill="#7c5454"/><text x="1460.5" y="515.5">&lt;a2.7&gt;</text></g>
<g id="a2.0" class="n"><rect x="1585" y="485" width="93" height="48" rx="14" fill="#e45c64"/><text x="1631.5" y="515.5">&lt;a2.0&gt;</text></g>
<g id="a2.1" class="n"><rect x="1805" y="485" width="95" height="48" rx="14" fill="#dccaa0"/><text x="1852.5" y="515.5">&lt;a2.1&gt;</text></g>
<g id="a2.5" class="n"><rect x="2027" y="485" width="94" height="48" rx="14" fill="#266454"/><text x="2074" y="515.5">&lt;a2.5&gt;</text></g>
<g id="a2.2" class="n"><rect x="2145" y="485" width="95" height="48" rx="14" fill="#346c16"/><text x="2192.5" y="515.5">&lt;a2.2&gt;</text></g>
<g id="a3.5" class="n"><rect x="3329" y="485" width="95" height="48" rx="14" fill="#ec0898"/><text x="3376.5" y="515.5">&lt;a3.5&gt;</text></g>
<g id="a3.6_q" class="n"><rect x="952" y="581" width="116" height="48" rx="14" fill="#24fc18"/><text x="1010" y="611.5">&lt;a3.6_q&gt;</text></g>
<g id="a3.0_q" class="n"><rect x="1092" y="581" width="116" height="48" rx="14" fill="#380c40"/><text x="1150" y="611.5">&lt;a3.0_q&gt;</text></g>
<g id="a3.0_k" class="n"><rect x="1233" y="581" width="114" height="48" rx="14" fill="#7c0c44"/><text x="1290" y="611.5">&lt;a3.0_k&gt;</text></g>
<g id="a3.0_v" class="n"><rect x="1371" y="581" width="114" height="48" rx="14" fill="#80c0f0"/><text x="1428" y="611.5">&lt;a3.0_v&gt;</text></g>
<g id="a3.7_q" class="n"><rect x="1562" y="581" width="115" height="48" rx="14" fill="#6a2a88"/><text x="1619.5" y="611.5">&lt;a3.7_q&gt;</text></g>
<g id="a3.7_v" class="n"><rect x="1703" y="581" width="114" height="48" rx="14" fill="#30e03c"/><text x="1760" y="611.5">&lt;a3.7_v&gt;</text></g>
<g id="a3.7_k" class="n"><rect x="1841" y="581" width="113" height="48" rx="14" fill="#9460a8"/><text x="1897.5" y="611.5">&lt;a3.7_k&gt;</text></g>
<g id="a3.6_k" class="n"><rect x="2271" y="581" width="114" height="48" rx="14" fill="#22b43a"/><text x="2328" y="611.5">&lt;a3.6_k&gt;</text></g>
<g id="a3.6_v" class="n"><rect x="2518" y="581" width="115" height="48" rx="14" fill="#1a34ec"/><text x="2575.5" y="611.5">&lt;a3.6_v&gt;</text></g>
<g id="a3.0" class="n"><rect x="1312" y="677" width="94" height="48" rx="14" fill="#58ac34"/><text x="1359" y="707.5">&lt;a3.0&gt;</text></g>
<g id="a3.7" class="n"><rect x="1641" y="677" width="95" height="48" rx="14" fill="#7a4ed4"/><text x="1688.5" y="707.5">&lt;a3.7&gt;</text></g>
<g id="a3.6" class="n"><rect x="1986" y="677" width="95" height="48" rx="14" fill="#18e47c"/><text x="2033.5" y="707.5">&lt;a3.6&gt;</text></g>
<g id="resid_post" class="n"><rect x="1498" y="773" width="147" height="48" rx="14" fill="#6cd870"/><text x="1571.5" y="803.5">&lt;resid_post&gt;</text></g>
</svg>
